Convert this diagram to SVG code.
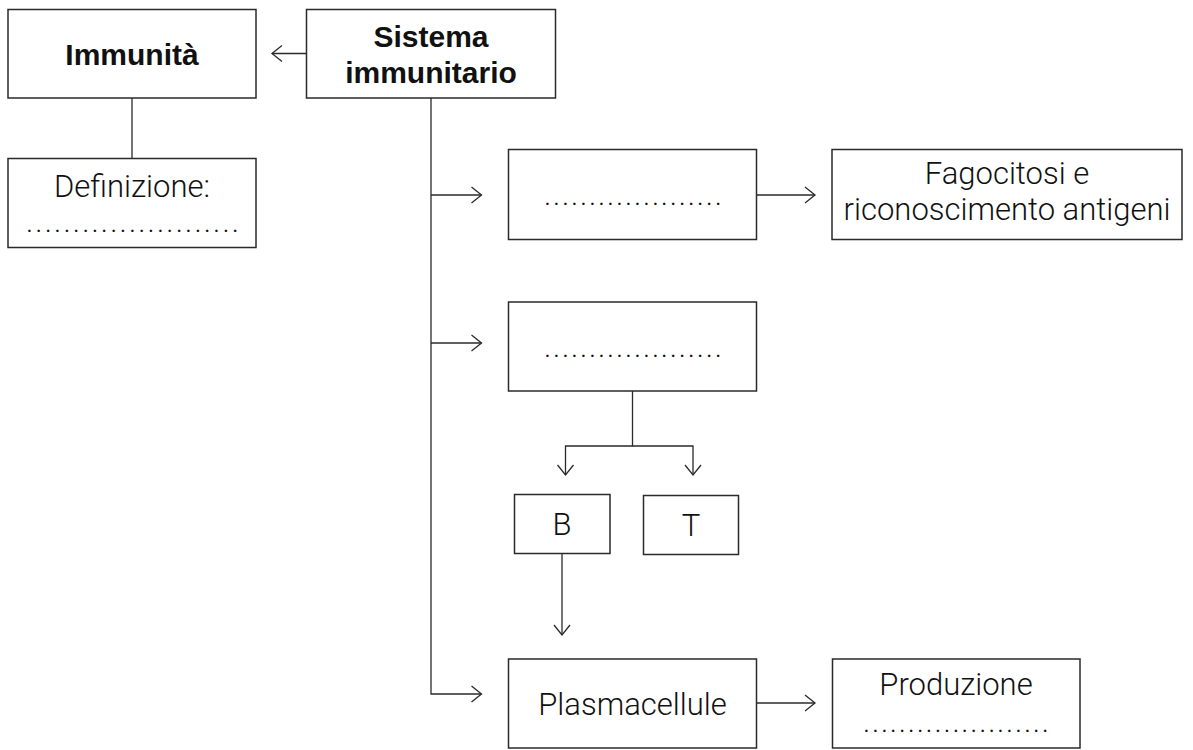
<svg xmlns="http://www.w3.org/2000/svg" width="1193" height="750" viewBox="0 0 1193 750">
<defs>
<marker id="arr" markerUnits="userSpaceOnUse" markerWidth="14" markerHeight="20" viewBox="-1 -10 13 20" refX="10" refY="0" orient="auto">
<path d="M0,-8 L10,0 L0,8" fill="none" stroke="#2a2a2a" stroke-width="1.3"/>
</marker>
<style>
.box{fill:#fff;stroke:#2a2a2a;stroke-width:1.5}
.b{font-family:"Liberation Sans",Arial,sans-serif;font-weight:bold;font-size:30px;fill:#111;text-anchor:middle}
.t{font-family:Roboto,"Liberation Sans",sans-serif;font-weight:300;font-size:31px;fill:#111;text-anchor:middle}
.d{font-family:Roboto,"Liberation Sans",sans-serif;font-weight:300;font-size:30px;fill:#111}
.c{fill:none;stroke:#2a2a2a;stroke-width:1.3}
</style>
</defs>
<rect width="1193" height="750" fill="#fff"/>
<g id="connectors">
<path class="c" d="M306.5,53.5 H272" marker-end="url(#arr)"/>
<path class="c" d="M132,98 V158.5"/>
<path class="c" d="M431,98 V694 H481.5" marker-end="url(#arr)"/>
<path class="c" d="M431,195 H481.5" marker-end="url(#arr)"/>
<path class="c" d="M431,343 H481.5" marker-end="url(#arr)"/>
<path class="c" d="M757,195 H815" marker-end="url(#arr)"/>
<path class="c" d="M632.5,391 V446 H565.5 V475" marker-end="url(#arr)"/>
<path class="c" d="M632.5,446 H693 V475" marker-end="url(#arr)"/>
<path class="c" d="M562,553.5 V635" marker-end="url(#arr)"/>
<path class="c" d="M757,703 H815" marker-end="url(#arr)"/>
</g>
<g id="immunita">
<rect class="box" x="8" y="9.5" width="248" height="88.5"/>
<text class="b" x="132" y="64.5">Immunità</text>
</g>
<g id="sistema">
<rect class="box" x="306.5" y="9.5" width="249" height="88.5"/>
<text class="b" x="431" y="46.5">Sistema</text>
<text class="b" x="431" y="83">immunitario</text>
</g>
<g id="definizione">
<rect class="box" x="8" y="158.5" width="248" height="89"/>
<text class="t" x="132" y="196.5">Definizione:</text>
<text class="d" x="26" y="232" textLength="213" lengthAdjust="spacing">.......................</text>
</g>
<g id="box1">
<rect class="box" x="508.5" y="149.5" width="248" height="90"/>
<text class="d" x="544" y="205" textLength="178" lengthAdjust="spacing">....................</text>
</g>
<g id="fagocitosi">
<rect class="box" x="832" y="149.5" width="350" height="90"/>
<text class="t" x="1007" y="183.5">Fagocitosi e</text>
<text class="t" x="1007" y="220">riconoscimento antigeni</text>
</g>
<g id="box2">
<rect class="box" x="508.5" y="302" width="248" height="89"/>
<text class="d" x="544" y="357" textLength="178" lengthAdjust="spacing">....................</text>
</g>
<g id="b">
<rect class="box" x="514.5" y="494.5" width="95.5" height="59"/>
<text class="t" x="562" y="535">B</text>
</g>
<g id="t">
<rect class="box" x="643.5" y="495.5" width="95" height="59"/>
<text class="t" x="691" y="536">T</text>
</g>
<g id="plasmacellule">
<rect class="box" x="508.5" y="659" width="248" height="89"/>
<text class="t" x="632.5" y="715">Plasmacellule</text>
</g>
<g id="produzione">
<rect class="box" x="832.5" y="659" width="247.5" height="89"/>
<text class="t" x="956" y="695">Produzione</text>
<text class="d" x="863" y="732" textLength="186" lengthAdjust="spacing">.....................</text>
</g>
</svg>
